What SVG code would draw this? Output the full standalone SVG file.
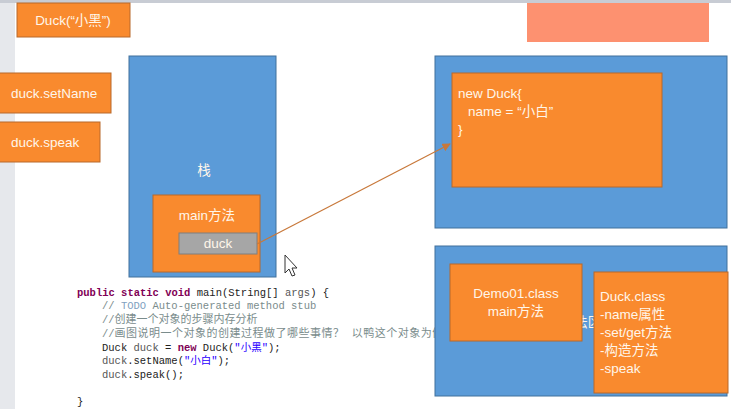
<svg xmlns="http://www.w3.org/2000/svg" width="731" height="409" viewBox="0 0 731 409">
<defs>
<style>
.lbl{font-family:"Liberation Sans","Noto Sans CJK SC",sans-serif;font-size:13.5px;fill:#fff6ea}
.org{fill:#f98a2e;stroke:#b8682a;stroke-width:1}
.blue{fill:#5b9bd8;stroke:#41719c;stroke-width:1}
.code{font-family:"Liberation Mono","Noto Sans CJK SC",monospace;font-size:10.5px;fill:#222}
.kw{fill:#7f0055;font-weight:bold}
.cm{fill:#7a8c8c}
.cj{font-size:11px}
.str{fill:#2a00ff}
.var{fill:#555}
</style>
<marker id="ah" viewBox="0 0 10 10" refX="9" refY="5" markerWidth="7" markerHeight="7" orient="auto"><path d="M0,0 L10,5 L0,10 z" fill="#c8783a"/></marker>
</defs>
<rect x="0" y="0" width="731" height="409" fill="#ffffff"/>
<rect x="0" y="0" width="15" height="409" fill="#e6e8ec"/>
<rect x="0" y="0" width="731" height="3" fill="#c8ccd4"/>

<g id="top-right"><rect x="527" y="3" width="182" height="39" fill="#fd9170"/></g>

<g id="code">
<text class="code" x="77" y="296"><tspan class="kw">public static void</tspan> main(String[] <tspan class="var">args</tspan>) {</text>
<text class="code cm" x="102" y="309">// <tspan fill="#7f9fbf">TODO</tspan> Auto-generated method stub</text>
<text class="code cm" x="102" y="323">//<tspan class="cj">创建一个对象的步骤内存分析</tspan></text>
<text class="code cm" x="102" y="337">//<tspan class="cj" letter-spacing="0.5">画图说明一个对象的创建过程做了哪些事情？ 以鸭这个对象为例</tspan></text>
<text class="code" x="102" y="351">Duck <tspan class="var">duck</tspan> = <tspan class="kw">new</tspan> Duck(<tspan class="str">"小黑"</tspan>);</text>
<text class="code" x="102" y="364"><tspan class="var">duck</tspan>.setName(<tspan class="str">"小白"</tspan>);</text>
<text class="code" x="102" y="378"><tspan class="var">duck</tspan>.speak();</text>
<text class="code" x="77" y="405">}</text>
</g>

<g id="duck-ctor"><rect class="org" x="17" y="3" width="113" height="34"/><text class="lbl" x="73" y="25" text-anchor="middle">Duck(“小黑”)</text></g>
<g id="setname"><rect class="org" x="-1" y="73" width="112" height="40"/><text class="lbl" x="11" y="98">duck.setName</text></g>
<g id="speak"><rect class="org" x="-1" y="122" width="101" height="40"/><text class="lbl" x="11" y="147">duck.speak</text></g>

<g id="stack"><rect class="blue" x="129" y="56" width="147" height="221"/><text class="lbl" x="204" y="175" text-anchor="middle">栈</text></g>
<g id="main-frame"><rect class="org" x="153" y="195" width="107" height="77"/><text class="lbl" x="207" y="220" text-anchor="middle">main方法</text></g>
<g id="duck-ref"><rect x="179" y="233" width="78" height="21" fill="#a6a6a6" stroke="#7f7f7f"/><text class="lbl" x="218" y="248" text-anchor="middle">duck</text></g>

<g id="heap"><rect class="blue" x="435" y="56" width="292" height="172"/></g>
<g id="duck-obj"><rect class="org" x="452" y="73" width="210" height="114"/>
<text class="lbl" x="458" y="98">new Duck{</text>
<text class="lbl" x="468" y="116">name = “小白”</text>
<text class="lbl" x="458" y="134">}</text></g>

<g id="method-area"><rect class="blue" x="435" y="246" width="292" height="150"/><text class="lbl" x="581" y="327" text-anchor="middle" font-size="15">方法区</text></g>
<g id="demo01"><rect class="org" x="450" y="264" width="132" height="77"/>
<text class="lbl" x="516" y="298" text-anchor="middle">Demo01.class</text>
<text class="lbl" x="516" y="316" text-anchor="middle">main方法</text></g>
<g id="duck-class"><rect class="org" x="594" y="272" width="134" height="121"/>
<text class="lbl" x="600" y="301">Duck.class</text>
<text class="lbl" x="600" y="319">-name属性</text>
<text class="lbl" x="600" y="337">-set/get方法</text>
<text class="lbl" x="600" y="355">-构造方法</text>
<text class="lbl" x="600" y="373">-speak</text></g>

<g id="connectors"><line x1="257" y1="244" x2="450" y2="144" stroke="#c8783a" stroke-width="1.2" marker-end="url(#ah)"/></g>

<g id="cursor"><path d="M285,255 L285,273 L289,269 L292,276 L295,275 L292,268 L297,268 Z" fill="#fff" stroke="#333" stroke-width="1"/></g>
</svg>
